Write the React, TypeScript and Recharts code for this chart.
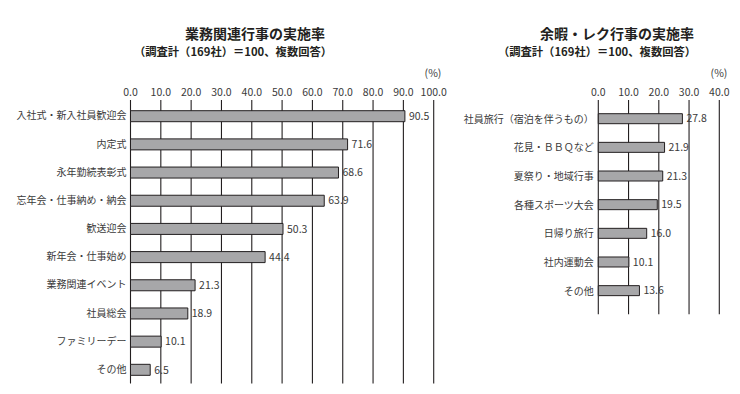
import React from "react";
import { BarChart, Bar, XAxis, YAxis, CartesianGrid, LabelList } from "recharts";

const workCategories = [
  "入社式・新入社員歓迎会",
  "内定式",
  "永年勤続表彰式",
  "忘年会・仕事納め・納会",
  "歓送迎会",
  "新年会・仕事始め",
  "業務関連イベント",
  "社員総会",
  "ファミリーデー",
  "その他",
];
const workValues = [90.5, 71.6, 68.6, 63.9, 50.3, 44.4, 21.3, 18.9, 10.1, 6.5];
const workTicks = [0, 10, 20, 30, 40, 50, 60, 70, 80, 90, 100];

const leisureCategories = [
  "社員旅行（宿泊を伴うもの）",
  "花見・ＢＢＱなど",
  "夏祭り・地域行事",
  "各種スポーツ大会",
  "日帰り旅行",
  "社内運動会",
  "その他",
];
const leisureValues = [27.8, 21.9, 21.3, 19.5, 16.0, 10.1, 13.6];
const leisureTicks = [0, 10, 20, 30, 40];

const workTitle = "業務関連行事の実施率";
const leisureTitle = "余暇・レク行事の実施率";
const subTitle = "（調査計（169社）＝100、複数回答）";
const unitLabel = "(%)";

const FONT = '"Noto Sans CJK JP", "Noto Sans", sans-serif';
const INK = "#231f20";
const TEXT = "#3a3a3a";
const BAR_FILL = "#a7a7a9";

const workData = workCategories.map((name, i) => ({ name, value: workValues[i] }));
const leisureData = leisureCategories.map((name, i) => ({ name, value: leisureValues[i] }));

const fmt = (v: number) => Number(v).toFixed(1);

export default function App() {
  return (
    <div
      style={{
        position: "absolute",
        left: 0,
        top: 0,
        width: 740,
        height: 394,
        background: "#ffffff",
        overflow: "hidden",
      }}
    >
      <div style={{ position: "absolute", left: 0, top: 0 }}>
        <BarChart
          width={450}
          height={394}
          data={workData}
          layout="vertical"
          margin={{ top: 70, right: 16.3, bottom: 10.5, left: 5.5 }}
        >
          <CartesianGrid horizontal={false} vertical={true} stroke={INK} strokeWidth={1.1} />
          <XAxis
            type="number"
            orientation="top"
            domain={[0, 100]}
            ticks={workTicks}
            tickFormatter={fmt}
            axisLine={false}
            tickLine={false}
            tickSize={2}
            tickMargin={2}
            height={30}
            interval={0}
            tick={{ fill: TEXT, fontSize: 10.5, fontFamily: FONT }}
          />
          <YAxis
            type="category"
            dataKey="name"
            width={125}
            axisLine={false}
            tickLine={false}
            tickSize={4}
            tickMargin={0}
            interval={0}
            padding={{ top: 1.7, bottom: 0 }}
            tick={{ fill: TEXT, fontSize: 10, fontFamily: FONT }}
          />
          <Bar
            dataKey="value"
            fill={BAR_FILL}
            stroke={INK}
            strokeWidth={1}
            barSize={11}
            isAnimationActive={false}
          >
            <LabelList
              dataKey="value"
              position="right"
              offset={4}
              formatter={(v: any) => fmt(v)}
              style={{ fill: TEXT, fontSize: 10.5, fontFamily: FONT }}
            />
          </Bar>
        </BarChart>
      </div>

      <div style={{ position: "absolute", left: 450, top: 0 }}>
        <BarChart
          width={290}
          height={394}
          data={leisureData}
          layout="vertical"
          margin={{ top: 70, right: 20.7, bottom: 79.7, left: 3.3 }}
        >
          <CartesianGrid horizontal={false} vertical={true} stroke={INK} strokeWidth={1.1} />
          <XAxis
            type="number"
            orientation="top"
            domain={[0, 40]}
            ticks={leisureTicks}
            tickFormatter={fmt}
            axisLine={false}
            tickLine={false}
            tickSize={2}
            tickMargin={2}
            height={30}
            interval={0}
            tick={{ fill: TEXT, fontSize: 10.5, fontFamily: FONT }}
          />
          <YAxis
            type="category"
            dataKey="name"
            width={145}
            axisLine={false}
            tickLine={false}
            tickSize={4}
            tickMargin={0.5}
            interval={0}
            padding={{ top: 4.7, bottom: 9 }}
            tick={{ fill: TEXT, fontSize: 10, fontFamily: FONT }}
          />
          <Bar
            dataKey="value"
            fill={BAR_FILL}
            stroke={INK}
            strokeWidth={1}
            barSize={10}
            isAnimationActive={false}
          >
            <LabelList
              dataKey="value"
              position="right"
              offset={4}
              formatter={(v: any) => fmt(v)}
              style={{ fill: TEXT, fontSize: 10.5, fontFamily: FONT }}
            />
          </Bar>
        </BarChart>
      </div>

      <svg
        width={740}
        height={394}
        style={{ position: "absolute", left: 0, top: 0, pointerEvents: "none" }}
      >
        <text x={255} y={39} textAnchor="middle" fontFamily={FONT} fontSize={14} fontWeight="bold" fill={INK}>
          {workTitle}
        </text>
        <text x={233} y={56} textAnchor="middle" fontFamily={FONT} fontSize={11.3} fontWeight="bold" fill={INK}>
          {subTitle}
        </text>
        <text x={617} y={39} textAnchor="middle" fontFamily={FONT} fontSize={14} fontWeight="bold" fill={INK}>
          {leisureTitle}
        </text>
        <text x={597} y={56} textAnchor="middle" fontFamily={FONT} fontSize={11.3} fontWeight="bold" fill={INK}>
          {subTitle}
        </text>
        <text x={433} y={77} textAnchor="middle" fontFamily={FONT} fontSize={10.5} fill={TEXT}>
          {unitLabel}
        </text>
        <text x={719} y={77} textAnchor="middle" fontFamily={FONT} fontSize={10.5} fill={TEXT}>
          {unitLabel}
        </text>
      </svg>
    </div>
  );
}
